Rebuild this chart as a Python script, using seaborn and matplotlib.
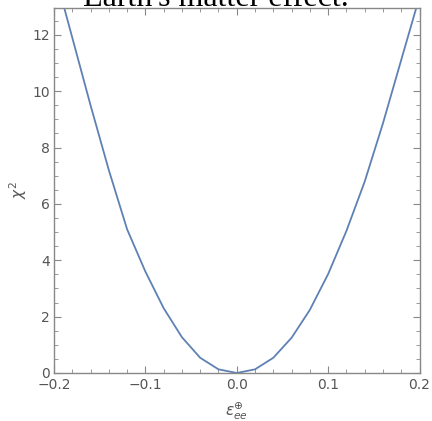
import matplotlib
matplotlib.use("Agg")
import matplotlib.pyplot as plt
import seaborn as sns
import pandas as pd
import numpy as np
from matplotlib.ticker import MultipleLocator

eps = [-0.20, -0.18, -0.16, -0.14, -0.12, -0.10, -0.08, -0.06, -0.04, -0.02, 0.00,
       0.02, 0.04, 0.06, 0.08, 0.10, 0.12, 0.14, 0.16, 0.18, 0.20]
chi2 = [14.3, 11.9, 9.5, 7.2, 5.1, 3.6, 2.3, 1.27, 0.54, 0.13, 0.0,
        0.13, 0.54, 1.25, 2.24, 3.51, 5.04, 6.79, 8.86, 11.11, 13.35]
xticks = [-0.2, -0.1, 0.0, 0.1, 0.2]
xticklabels = ["\u22120.2", "\u22120.1", "0.0", "0.1", "0.2"]
yticks = [0, 2, 4, 6, 8, 10, 12]
title = "Earth's matter effect."

sns.set_style("ticks")
plt.rcParams['font.family'] = ['DejaVu Sans']
plt.rcParams['mathtext.fontset'] = 'dejavusans'

df = pd.DataFrame({"eps": eps, "chi2": chi2})

fig = plt.figure(figsize=(4.32, 4.21), dpi=100)
axw = 419.5 - 54
ax = fig.add_axes([54/432, 48/421, axw/432, (373-7.5)/421])
sns.lineplot(data=df, x="eps", y="chi2", ax=ax, color="#5E81B5", linewidth=1.3)

ax.set_xlim(-0.2, 0.2)
ax.set_ylim(0, 12.97)
ax.set_xticks(xticks)
ax.set_xticklabels(xticklabels)
ax.set_yticks(yticks)
ax.xaxis.set_minor_locator(MultipleLocator(0.02))
ax.yaxis.set_minor_locator(MultipleLocator(0.5))
gray = "#555555"
ax.tick_params(which="both", direction="in", top=True, right=True, color="#888888",
               labelcolor=gray, labelsize=10)
ax.tick_params(axis="y", which="major", pad=3)
ax.tick_params(which="major", length=5, width=0.8)
ax.tick_params(which="minor", length=3, width=0.6)
for s in ax.spines.values():
    s.set_color("#888888")
    s.set_linewidth(1.0)

ax.set_xlabel(r"$\epsilon_{ee}^{\oplus}$", color=gray, fontsize=11, labelpad=6)
ax.set_ylabel(r"$\chi^{2}$", color=gray, fontsize=11)
ax.yaxis.set_label_coords((29 - 54) / axw, 0.5)

fig.text(216/432, 1 - 5.7/421, title, ha="center", va="baseline",
         fontsize=23, family=["Liberation Serif"], color="black")

fig.savefig("out.png", dpi=100)
